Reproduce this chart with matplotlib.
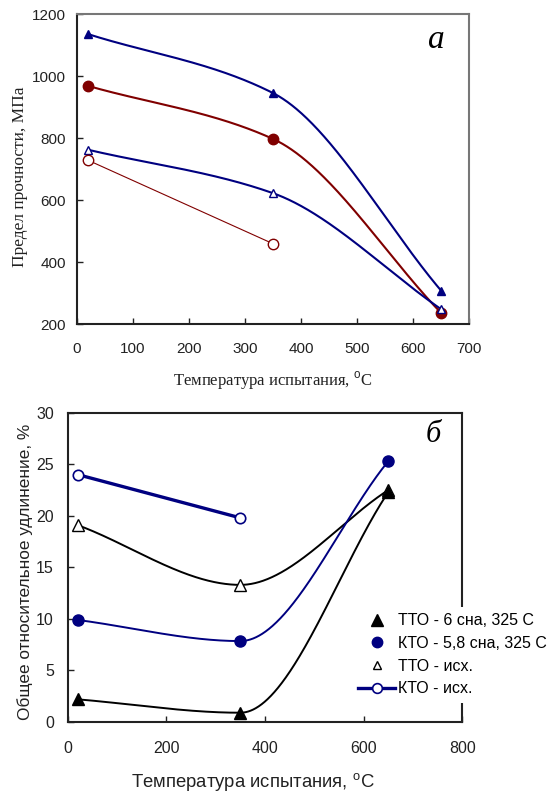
import numpy as np
import matplotlib
matplotlib.use("Agg")
import matplotlib.pyplot as plt
from matplotlib.lines import Line2D

plt.rcParams['font.family'] = ['Liberation Sans', 'DejaVu Sans']
plt.rcParams['mathtext.fontset'] = 'custom'
plt.rcParams['mathtext.rm'] = 'Liberation Sans'

NAVY = '#000080'
DARKRED = '#800000'

# --- (а) предел прочности ---
temp_a = [20, 350, 650]
uts_tto_6 = [1135, 945, 308]     # ТТО - 6 сна
uts_kto_58 = [968, 797, 236]     # КТО - 5,8 сна
uts_tto_init = [762, 622, 248]   # ТТО - исх.
temp_a_init = [20, 350]
uts_kto_init = [728, 459]        # КТО - исх.

# --- (б) относительное удлинение ---
temp_b = [20, 350, 650]
el_tto_6 = [2.2, 0.9, 22.3]
el_kto_58 = [9.9, 7.85, 25.3]
el_tto_init = [19.1, 13.3, 22.5]
temp_b_init = [20, 350]
el_kto_init = [24.0, 19.8]

legend_labels = ['ТТО - 6 сна, 325 С', 'КТО - 5,8 сна, 325 С', 'ТТО - исх.', 'КТО - исх.']


def smooth(x, y, n=300):
    """кусочно-кубическая интерполяция (Эрмит, монотонные наклоны)"""
    x = np.asarray(x, float)
    y = np.asarray(y, float)
    h = np.diff(x)
    d = np.diff(y) / h
    m = np.zeros_like(x)
    m[0], m[-1] = d[0], d[-1]
    for k in range(1, len(x) - 1):
        if d[k - 1] * d[k] <= 0:
            m[k] = 0.0
        else:
            w1 = 2 * h[k] + h[k - 1]
            w2 = h[k] + 2 * h[k - 1]
            m[k] = (w1 + w2) / (w1 / d[k - 1] + w2 / d[k])
    xs, ys = [], []
    for k in range(len(x) - 1):
        t = np.linspace(0, 1, n)
        h00 = 2 * t**3 - 3 * t**2 + 1
        h10 = t**3 - 2 * t**2 + t
        h01 = -2 * t**3 + 3 * t**2
        h11 = t**3 - t**2
        xs.append(x[k] + t * h[k])
        ys.append(h00 * y[k] + h10 * h[k] * m[k] + h01 * y[k + 1] + h11 * h[k] * m[k + 1])
    return np.concatenate(xs), np.concatenate(ys)


fig = plt.figure(figsize=(5.51, 7.92), dpi=100)
W, H = 551, 792


def add_axes(l, t, r, b):
    return fig.add_axes([l / W, 1 - b / H, (r - l) / W, (b - t) / H])


# ---------------- верхний график ----------------
ax1 = add_axes(77, 14, 469, 324)
lw = 1.5
ax1.plot(*smooth(temp_a, uts_tto_6), color=NAVY, lw=lw, zorder=2)
ax1.plot(temp_a, uts_tto_6, '^', color=NAVY, ms=6, zorder=3)
ax1.plot(*smooth(temp_a, uts_kto_58), color=DARKRED, lw=lw, zorder=2)
ax1.plot(temp_a, uts_kto_58, 'o', color=DARKRED, ms=7.5, zorder=3)
ax1.plot(*smooth(temp_a, uts_tto_init), color=NAVY, lw=lw, zorder=2)
ax1.plot(temp_a, uts_tto_init, '^', color=NAVY, mfc='white', mew=1.0, ms=6, zorder=3)
ax1.plot(temp_a_init, uts_kto_init, '-', color=DARKRED, lw=0.8, zorder=2)
ax1.plot(temp_a_init, uts_kto_init, 'o', color=DARKRED, mfc='white', mew=1.0, ms=7.5, zorder=3)

ax1.set_xlim(0, 700)
ax1.set_ylim(200, 1200)
ax1.set_xticks(np.arange(0, 701, 100))
ax1.set_yticks(np.arange(200, 1201, 200))
ax1.tick_params(direction='in', length=4, width=1, labelsize=11, colors='#222222')
ax1.tick_params(axis='x', pad=13)
ax1.tick_params(axis='y', pad=8)
for s in ['left', 'bottom']:
    ax1.spines[s].set_linewidth(1.5)
    ax1.spines[s].set_color('#222222')
for s in ['top', 'right']:
    ax1.spines[s].set_linewidth(1.5)
    ax1.spines[s].set_color('#777777')

fig.text(273 / W, 1 - 381 / H, 'Температура испытания, $^{\\mathrm{o}}$C',
         family=['Liberation Serif', 'DejaVu Serif'], fontsize=12,
         ha='center', va='center', color='#222222')
fig.text(20 / W, 1 - 177 / H, 'Предел прочности, МПа', rotation=90,
         family=['Liberation Serif', 'DejaVu Serif'], fontsize=12.5,
         ha='center', va='center', color='#222222')
fig.text(436 / W, 1 - 40 / H, 'а', family=['Liberation Serif'], style='italic',
         fontsize=24, ha='center', va='center')

# ---------------- нижний график ----------------
ax2 = add_axes(67.7, 412.7, 462.3, 722)
ax2.plot(temp_b_init, el_kto_init, '-', color=NAVY, lw=2.4, zorder=2)
ax2.plot(temp_b_init, el_kto_init, 'o', color=NAVY, mfc='white', mew=1.2, ms=7.5, zorder=3)
ax2.plot(*smooth(temp_b, el_tto_init), color='black', lw=1.4, zorder=2)
ax2.plot(temp_b, el_tto_init, '^', color='black', mfc='white', mew=1.0, ms=9, zorder=3)
ax2.plot(*smooth(temp_b, el_kto_58), color=NAVY, lw=1.4, zorder=2)
ax2.plot(temp_b, el_kto_58, 'o', color=NAVY, ms=8, zorder=3)
ax2.plot(*smooth(temp_b, el_tto_6), color='black', lw=1.4, zorder=2)
ax2.plot(temp_b, el_tto_6, '^', color='black', ms=8.5, zorder=3)

ax2.set_xlim(0, 800)
ax2.set_ylim(0, 30)
ax2.set_xticks(np.arange(0, 801, 200))
ax2.set_yticks(np.arange(0, 31, 5))
ax2.tick_params(direction='in', length=4, width=1, labelsize=11.5, colors='#222222')
ax2.tick_params(axis='x', pad=14)
ax2.tick_params(axis='y', pad=10)
for s in ax2.spines.values():
    s.set_linewidth(1.5)
    s.set_color('#222222')

fig.text(253 / W, 1 - 782 / H, 'Температура испытания, $^{\\mathrm{o}}$C',
         fontsize=13.3, ha='center', va='center', color='#222222')
fig.text(25 / W, 1 - 572 / H, 'Общее относительное удлинение, %', rotation=90,
         fontsize=12.4, ha='center', va='center', color='#222222')
fig.text(433 / W, 1 - 435 / H, 'б', family=['Liberation Serif'], style='italic',
         fontsize=22, ha='center', va='center')

handles = [
    Line2D([], [], ls='none', marker='^', color='black', ms=8.5),
    Line2D([], [], ls='none', marker='o', color=NAVY, ms=7.5),
    Line2D([], [], ls='none', marker='^', color='black', mfc='white', mew=1.0, ms=6),
    Line2D([], [], ls='-', lw=2.4, marker='o', color=NAVY, mfc='white', mew=1.2, ms=7),
]
leg = ax2.legend(handles, legend_labels, loc='upper left',
                 bbox_to_anchor=(352 / W, 1 - 607 / H), bbox_transform=fig.transFigure,
                 fontsize=11.5, handlelength=2.3, handletextpad=0.2,
                 labelspacing=0.48, borderpad=0.4, borderaxespad=0,
                 frameon=True, fancybox=False, framealpha=1)
leg.get_frame().set_facecolor('white')
leg.get_frame().set_edgecolor('none')
leg.set_zorder(5)

fig.savefig('out.png', dpi=100)
